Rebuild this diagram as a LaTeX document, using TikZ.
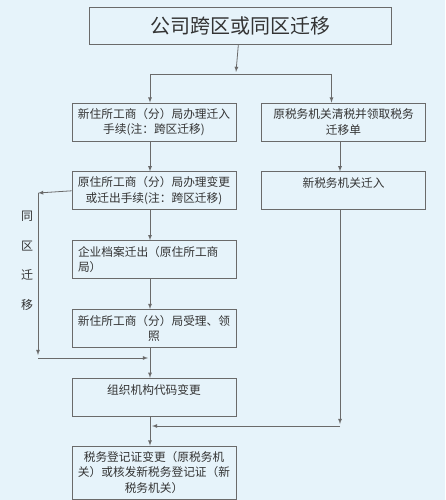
\documentclass[tikz,border=0pt]{standalone}
\usepackage{fontspec}
\setmainfont{Noto Sans CJK SC}
\usepackage{tikz}
\usetikzlibrary{arrows,positioning,calc}
\definecolor{bgblue}{HTML}{E6F3FA}
\definecolor{linegray}{HTML}{6A6A6A}
\definecolor{textgray}{HTML}{333333}

\begin{document}
\begin{tikzpicture}[
    x=1pt, y=-1pt,
    node distance=30pt,
    block/.style={rectangle, draw=linegray, line width=0.8pt, text=textgray, minimum width=164pt, minimum height=38pt, inner sep=2pt, align=center, font=\fontsize{11.7}{15.5}\selectfont},
    title/.style={block, minimum width=302pt, minimum height=37pt, font=\fontsize{20}{22}\selectfont},
    arrow/.style={-latex, draw=linegray, line width=0.8pt},
    link/.style={draw=linegray, line width=0.8pt}
]
    \fill[bgblue] (0,0) rectangle (445,500);
    \useasboundingbox (0,0) rectangle (445,500);

    \node[title] (top) at (240,25.5) {公司跨区或同区迁移};

    \node[block] (movein) at (154,122) {新住所工商（分）局办理迁入\\手续(注：跨区迁移)};
    \node[block] (clear) at (343.5,122) {原税务机关清税并领取税务\\迁移单};

    \node[block, below=of movein] (moveout) {原住所工商（分）局办理变更\\或迁出手续(注：跨区迁移)};
    \node[block, below=of clear] (taxin) {新税务机关迁入\\~};
    \node[block, below=of moveout, text width=152pt, align=left] (archive) {企业档案迁出（原住所工商\\局）};
    \node[block, below=of archive] (license) {新住所工商（分）局受理、领\\照};
    \node[block, below=of license] (orgcode) {组织机构代码变更\\~};
    \node[block, below=29pt of orgcode, minimum height=53pt] (taxreg) {税务登记证变更（原税务机\\关）或核发新税务登记证（新\\税务机关）};

    \node[text=textgray, align=center, font=\fontsize{12}{29.5}\selectfont] (samearea) at (27,261) {同\\区\\迁\\移};

    % top split
    \coordinate (split) at (236,74);
    \draw[arrow] (top) -- ([yshift=2pt]split);
    \draw[link] ([xshift=-4pt]movein.north |- split) -- ([xshift=-12pt]clear.north |- split);
    \draw[arrow] ([xshift=-4pt]movein.north |- split) -- ([xshift=-4pt]movein.north);
    \draw[arrow] ([xshift=-12pt]clear.north |- split) -- ([xshift=-12pt]clear.north);

    % left column
    \draw[arrow] ([xshift=-4pt]movein.south) -- ([xshift=-4pt]moveout.north);
    \draw[arrow] ([xshift=-4pt]moveout.south) -- ([xshift=-4pt]archive.north);
    \draw[arrow] ([xshift=-4pt]archive.south) -- ([xshift=-4pt]license.north);
    \draw[arrow] ([xshift=-4pt]license.south) -- ([xshift=-4pt]orgcode.north);
    \draw[arrow] ([xshift=-4pt]orgcode.south) -- ([xshift=-4pt]taxreg.north);

    % same area loop
    \coordinate (loopT) at (38,193);
    \coordinate (loopB) at (38,358);
    \draw[arrow] (moveout.west) -- (loopT);
    \draw[arrow] (loopT) -- ([yshift=3pt]loopB);
    \draw[arrow] (loopB) -- ([xshift=-6pt]license.south |- loopB);

    % right column
    \coordinate (joinR) at (340,426);
    \draw[arrow] ([xshift=-3.5pt]clear.south) -- ([xshift=-3.5pt]taxin.north);
    \draw[arrow] (taxin.south -| joinR) -- ([yshift=2pt]joinR);
    \draw[arrow] (joinR) -- ([xshift=-2pt]orgcode.south |- joinR);
\end{tikzpicture}
\end{document}
